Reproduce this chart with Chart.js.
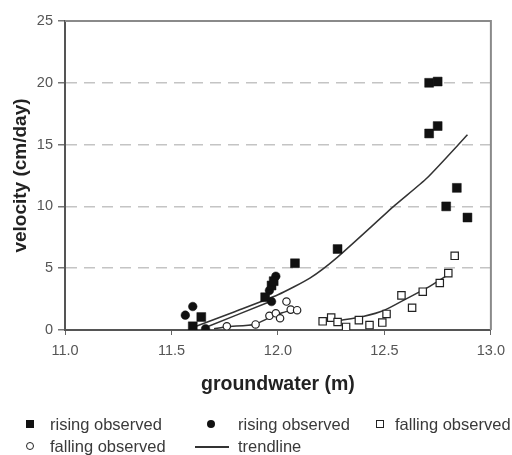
<!DOCTYPE html>
<html>
<head>
<meta charset="utf-8">
<script src="https://cdn.jsdelivr.net/npm/chart.js@4.4.1/dist/chart.umd.min.js"></script>
<style>
  html, body { margin: 0; padding: 0; background: #fff; }
  #wrap { position: relative; width: 512px; height: 455px; overflow: hidden; }
  #chart { position: absolute; left: 0; top: 0; }
  .lg { position: absolute; font-family: "Liberation Sans", Arial, sans-serif; font-size: 16.5px; color: #3a3a3a; white-space: nowrap; line-height: 18px; }
  .mk { position: absolute; box-sizing: border-box; }
</style>
</head>
<body>
<div id="wrap">
  <canvas id="chart" width="512" height="455"></canvas>
  <div class="mk" style="left:26px;top:420px;width:8px;height:8px;background:#111"></div>
  <div class="lg" style="left:50px;top:415px">rising observed</div>
  <div class="mk" style="left:207px;top:420px;width:8px;height:8px;border-radius:50%;background:#111"></div>
  <div class="lg" style="left:238px;top:415px">rising observed</div>
  <div class="mk" style="left:376px;top:420px;width:8px;height:8px;border:1.5px solid #222"></div>
  <div class="lg" style="left:395px;top:415px">falling observed</div>
  <div class="mk" style="left:26px;top:442px;width:8px;height:8px;border-radius:50%;border:1.5px solid #222"></div>
  <div class="lg" style="left:50px;top:437px">falling observed</div>
  <div class="mk" style="left:195px;top:446px;width:34px;height:1.5px;background:#333"></div>
  <div class="lg" style="left:238px;top:437px">trendline</div>
</div>
<script>
const xTicks = [11.0, 11.5, 12.0, 12.5, 13.0];
const yTicks = [0, 5, 10, 15, 20, 25];

// rising observed (filled squares)
const risingSqX = [11.60, 11.64, 11.94, 11.97, 11.98, 12.08, 12.28, 12.71, 12.75, 12.71, 12.75, 12.84, 12.79, 12.89];
const risingSqY = [0.3, 1.05, 2.65, 3.6, 3.95, 5.4, 6.55, 20.0, 20.1, 15.9, 16.5, 11.5, 10.0, 9.1];

// rising observed (filled circles)
const risingCiX = [11.565, 11.60, 11.66, 11.96, 11.97, 11.99];
const risingCiY = [1.2, 1.9, 0.1, 3.2, 2.3, 4.35];

// falling observed (open squares)
const fallingSqX = [12.21, 12.25, 12.28, 12.32, 12.38, 12.43, 12.49, 12.51, 12.58, 12.63, 12.68, 12.76, 12.80, 12.83];
const fallingSqY = [0.7, 1.0, 0.65, 0.25, 0.8, 0.4, 0.6, 1.3, 2.8, 1.8, 3.1, 3.8, 4.6, 6.0];

// falling observed (open circles)
const fallingCiX = [11.76, 11.895, 11.96, 11.99, 12.01, 12.04, 12.06, 12.09];
const fallingCiY = [0.3, 0.45, 1.15, 1.35, 0.95, 2.3, 1.65, 1.6];

// trendlines
const trendRisingSqX = [11.60, 11.80, 12.00, 12.15, 12.28, 12.55, 12.70, 12.89];
const trendRisingSqY = [0.2, 1.5, 2.85, 4.2, 5.9, 10.1, 12.3, 15.8];
const trendRisingCiX = [11.645, 11.97];
const trendRisingCiY = [0.1, 2.35];
const trendFallingCiX = [11.70, 11.76, 11.89, 11.96, 12.02, 12.09];
const trendFallingCiY = [0.1, 0.27, 0.45, 1.0, 1.4, 1.7];
const trendFallingSqX = [12.28, 12.40, 12.50, 12.60, 12.70, 12.81];
const trendFallingSqY = [0.75, 1.1, 1.6, 2.5, 3.4, 4.6];

const pts = (xs, ys) => xs.map((x, i) => ({ x, y: ys[i] }));

function markers(xs, ys, style, filled, r) {
  return {
    data: pts(xs, ys),
    pointStyle: style,
    pointRadius: r,
    pointHoverRadius: r,
    pointBackgroundColor: filled ? "#111" : "#fff",
    pointBorderColor: filled ? "#111" : "#222",
    pointBorderWidth: filled ? 0.5 : 1.2,
    showLine: false,
    order: 1,
  };
}

function trend(xs, ys) {
  return {
    data: pts(xs, ys),
    showLine: true,
    pointRadius: 0,
    borderColor: "#333",
    borderWidth: 1.5,
    tension: 0.2,
    fill: false,
    order: 2,
  };
}

const frame = {
  id: "frame",
  afterDraw(chart) {
    const { ctx, chartArea: a } = chart;
    ctx.save();
    ctx.strokeStyle = "#8a8a8a";
    ctx.lineWidth = 2;
    ctx.beginPath();
    ctx.moveTo(a.left, a.top);
    ctx.lineTo(a.right, a.top);
    ctx.lineTo(a.right, a.bottom);
    ctx.stroke();
    ctx.restore();
  },
};

const tickFont = { family: "'Liberation Sans', Arial, sans-serif", size: 14.5 };
const titleFont = (size) => ({ family: "'Liberation Sans', Arial, sans-serif", size, weight: "bold" });

new Chart(document.getElementById("chart"), {
  type: "scatter",
  data: {
    datasets: [
      markers(risingSqX, risingSqY, "rect", true, 6.3),
      markers(risingCiX, risingCiY, "circle", true, 4.3),
      markers(fallingSqX, fallingSqY, "rect", false, 5.2),
      markers(fallingCiX, fallingCiY, "circle", false, 3.7),
      trend(trendRisingSqX, trendRisingSqY),
      trend(trendRisingCiX, trendRisingCiY),
      trend(trendFallingCiX, trendFallingCiY),
      trend(trendFallingSqX, trendFallingSqY),
    ],
  },
  options: {
    responsive: false,
    animation: false,
    layout: { padding: { left: 0, right: 17, top: 21, bottom: 0 } },
    plugins: { legend: { display: false }, tooltip: { enabled: false } },
    scales: {
      x: {
        type: "linear",
        min: 11,
        max: 13,
        afterBuildTicks: (s) => { s.ticks = xTicks.map((v) => ({ value: v })); },
        afterFit: (s) => { s.height = 125; },
        ticks: {
          color: "#555",
          font: tickFont,
          padding: 7,
          callback: (v) => v.toFixed(1),
        },
        grid: { drawOnChartArea: false, drawTicks: true, tickLength: 5, tickColor: "#666" },
        border: { color: "#555", width: 2 },
        title: {
          display: true,
          text: "groundwater (m)",
          color: "#222",
          font: titleFont(19.5),
          padding: { top: 0, bottom: 59 },
        },
      },
      y: {
        min: 0,
        max: 25,
        afterBuildTicks: (s) => { s.ticks = yTicks.map((v) => ({ value: v })); },
        afterFit: (s) => { s.width = 65; },
        ticks: {
          color: "#555",
          font: tickFont,
          padding: 5,
        },
        grid: {
          color: (c) => (c.tick && (c.tick.value === 0 || c.tick.value === 25) ? "rgba(0,0,0,0)" : "#c4c4c4"),
          lineWidth: 1.5,
          drawTicks: true,
          tickLength: 7,
          tickColor: "#777",
        },
        border: { color: "#555", width: 2, dash: [11, 7] },
        title: {
          display: true,
          text: "velocity (cm/day)",
          color: "#222",
          font: titleFont(19),
          padding: { top: 9, bottom: 0 },
        },
      },
    },
  },
  plugins: [frame],
});
</script>
</body>
</html>
